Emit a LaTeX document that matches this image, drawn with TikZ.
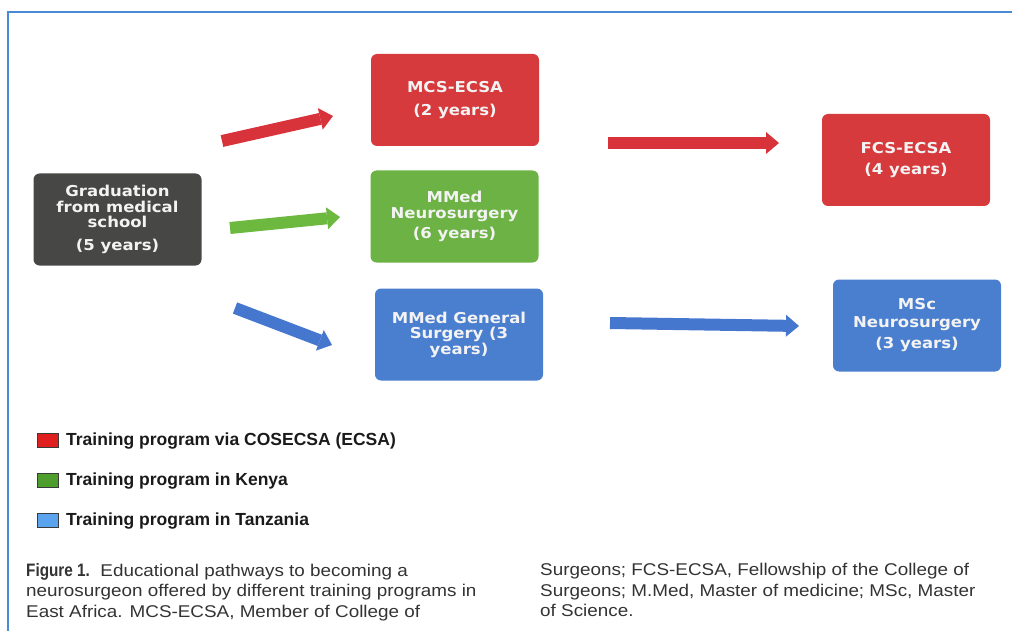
\documentclass[tikz,border=0pt]{standalone}
\usepackage{fontspec}
\setmainfont{Liberation Sans}
\newfontfamily\boxfont{DejaVu Sans}[FakeStretch=1.1]
\newfontfamily\capfont{Liberation Sans}[FakeStretch=1.11]
\newfontfamily\figfont{Liberation Sans}[FakeStretch=0.85]
\usetikzlibrary{arrows.meta,positioning}
\definecolor{frameblue}{HTML}{4A8AD5}
\definecolor{gradgrey}{HTML}{474745}
\definecolor{ecsared}{HTML}{D63A3C}
\definecolor{kenyagreen}{HTML}{6CB244}
\definecolor{tanzblue}{HTML}{4A7ECF}
\definecolor{arrred}{HTML}{D8333B}
\definecolor{arrgreen}{HTML}{6DB83F}
\definecolor{arrblue}{HTML}{4677CF}
\definecolor{legred}{HTML}{E0201F}
\definecolor{leggreen}{HTML}{4E9E2E}
\definecolor{legblue}{HTML}{5BA3EC}
\definecolor{legline}{HTML}{3A3A3A}
\definecolor{boxtext}{HTML}{F3F3F3}
\definecolor{captext}{HTML}{333333}
\definecolor{ink}{HTML}{1A1A1A}
\tikzset{
  % ---- programme boxes -------------------------------------------
  prog/.style     = {rounded corners=6pt, draw=none, text=boxtext,
                     minimum width=168pt, minimum height=92pt,
                     inner sep=2pt, align=center,
                     font=\boxfont\bfseries\fontsize{15}{15.5}\selectfont},
  grad/.style     = {prog, fill=gradgrey},
  ecsa/.style     = {prog, fill=ecsared},
  kenya/.style    = {prog, fill=kenyagreen},
  tanz/.style     = {prog, fill=tanzblue},
  % ---- block arrows ----------------------------------------------
  blk/.style      = {line width=12pt,
                     -{Triangle[length=13pt, width=22pt, line width=0pt]}},
  blkR/.style     = {blk, draw=arrred},
  blkG/.style     = {blk, draw=arrgreen},
  blkB/.style     = {blk, draw=arrblue},
  % ---- legend and caption ----------------------------------------
  key/.style      = {draw=legline, line width=1pt, inner sep=0pt,
                     minimum width=21pt, minimum height=14pt},
  keytext/.style  = {anchor=west, inner sep=0pt, text=ink,
                     font=\bfseries\fontsize{17.5}{20}\selectfont},
  captext/.style  = {anchor=north west, inner sep=0pt, align=left,
                     text=captext, font=\capfont\fontsize{17}{20.5}\selectfont},
  frame/.style    = {draw=frameblue, line width=2pt},
}
\begin{document}
\begin{tikzpicture}[x=1pt, y=-1pt]
  \useasboundingbox (0,0) rectangle (1012,631);
  \draw[frame] (1012,12) -- (8,12) -- (8,631);
  % boxes
  \node[grad]  (grad)  at (117.5,219.5) {Graduation\\from medical\\school\\[7pt](5 years)};
  \node[ecsa]  (mcs)   at (455,100)   {MCS-ECSA\\[7pt](2 years)};
  \node[kenya] (mmedn) at (454.5,216.5) {MMed\\Neurosurgery\\[5pt](6 years)};
  \node[tanz]  (mmedg) at (459,334.5) {MMed General\\Surgery (3\\years)};
  \node[ecsa]  (fcs)   at (906,160)   {FCS-ECSA\\[6pt](4 years)};
  \node[tanz]  (msc)   at (917,325.5) {MSc\\[2pt]Neurosurgery\\[6pt](3 years)};
  % arrows
  \coordinate (r1a) at (222,141);
  \coordinate (r1b) at (333,116);
  \coordinate (g1a) at (230,228);
  \coordinate (g1b) at (340,217);
  \coordinate (b1a) at (235,308);
  \coordinate (b1b) at (332,345);
  \coordinate (r2a) at (608,143);
  \coordinate (r2b) at (779,143);
  \coordinate (b2a) at (610,323);
  \coordinate (b2b) at (799,326);
  \draw[blkR] (r1a) -- (r1b);
  \draw[blkG] (g1a) -- (g1b);
  \draw[blkB] (b1a) -- (b1b);
  \draw[blkR] (r2a) -- (r2b);
  \draw[blkB] (b2a) -- (b2b);
  % legend
  \node[key, fill=legred]   (keyR) at (47.5,440) {};
  \node[key, fill=leggreen] (keyG) at (47.5,480) {};
  \node[key, fill=legblue]  (keyB) at (47.5,520) {};
  \node[keytext] (keyRt) at (66,441) {Training program via COSECSA (ECSA)};
  \node[keytext] (keyGt) at (66,481) {Training program in Kenya};
  \node[keytext] (keyBt) at (66,521) {Training program in Tanzania};
  % caption
  \node[captext] (capL) at (26,563) {{\figfont\bfseries\fontsize{18}{20.5}\selectfont Figure 1.}\ \ Educational pathways to becoming a\\neurosurgeon offered by different training programs in\\East Africa. MCS-ECSA, Member of College of};
  \node[captext] (capR) at (540,563) {Surgeons; FCS-ECSA, Fellowship of the College of\\Surgeons; M.Med, Master of medicine; MSc, Master\\of Science.};
\end{tikzpicture}
\end{document}
